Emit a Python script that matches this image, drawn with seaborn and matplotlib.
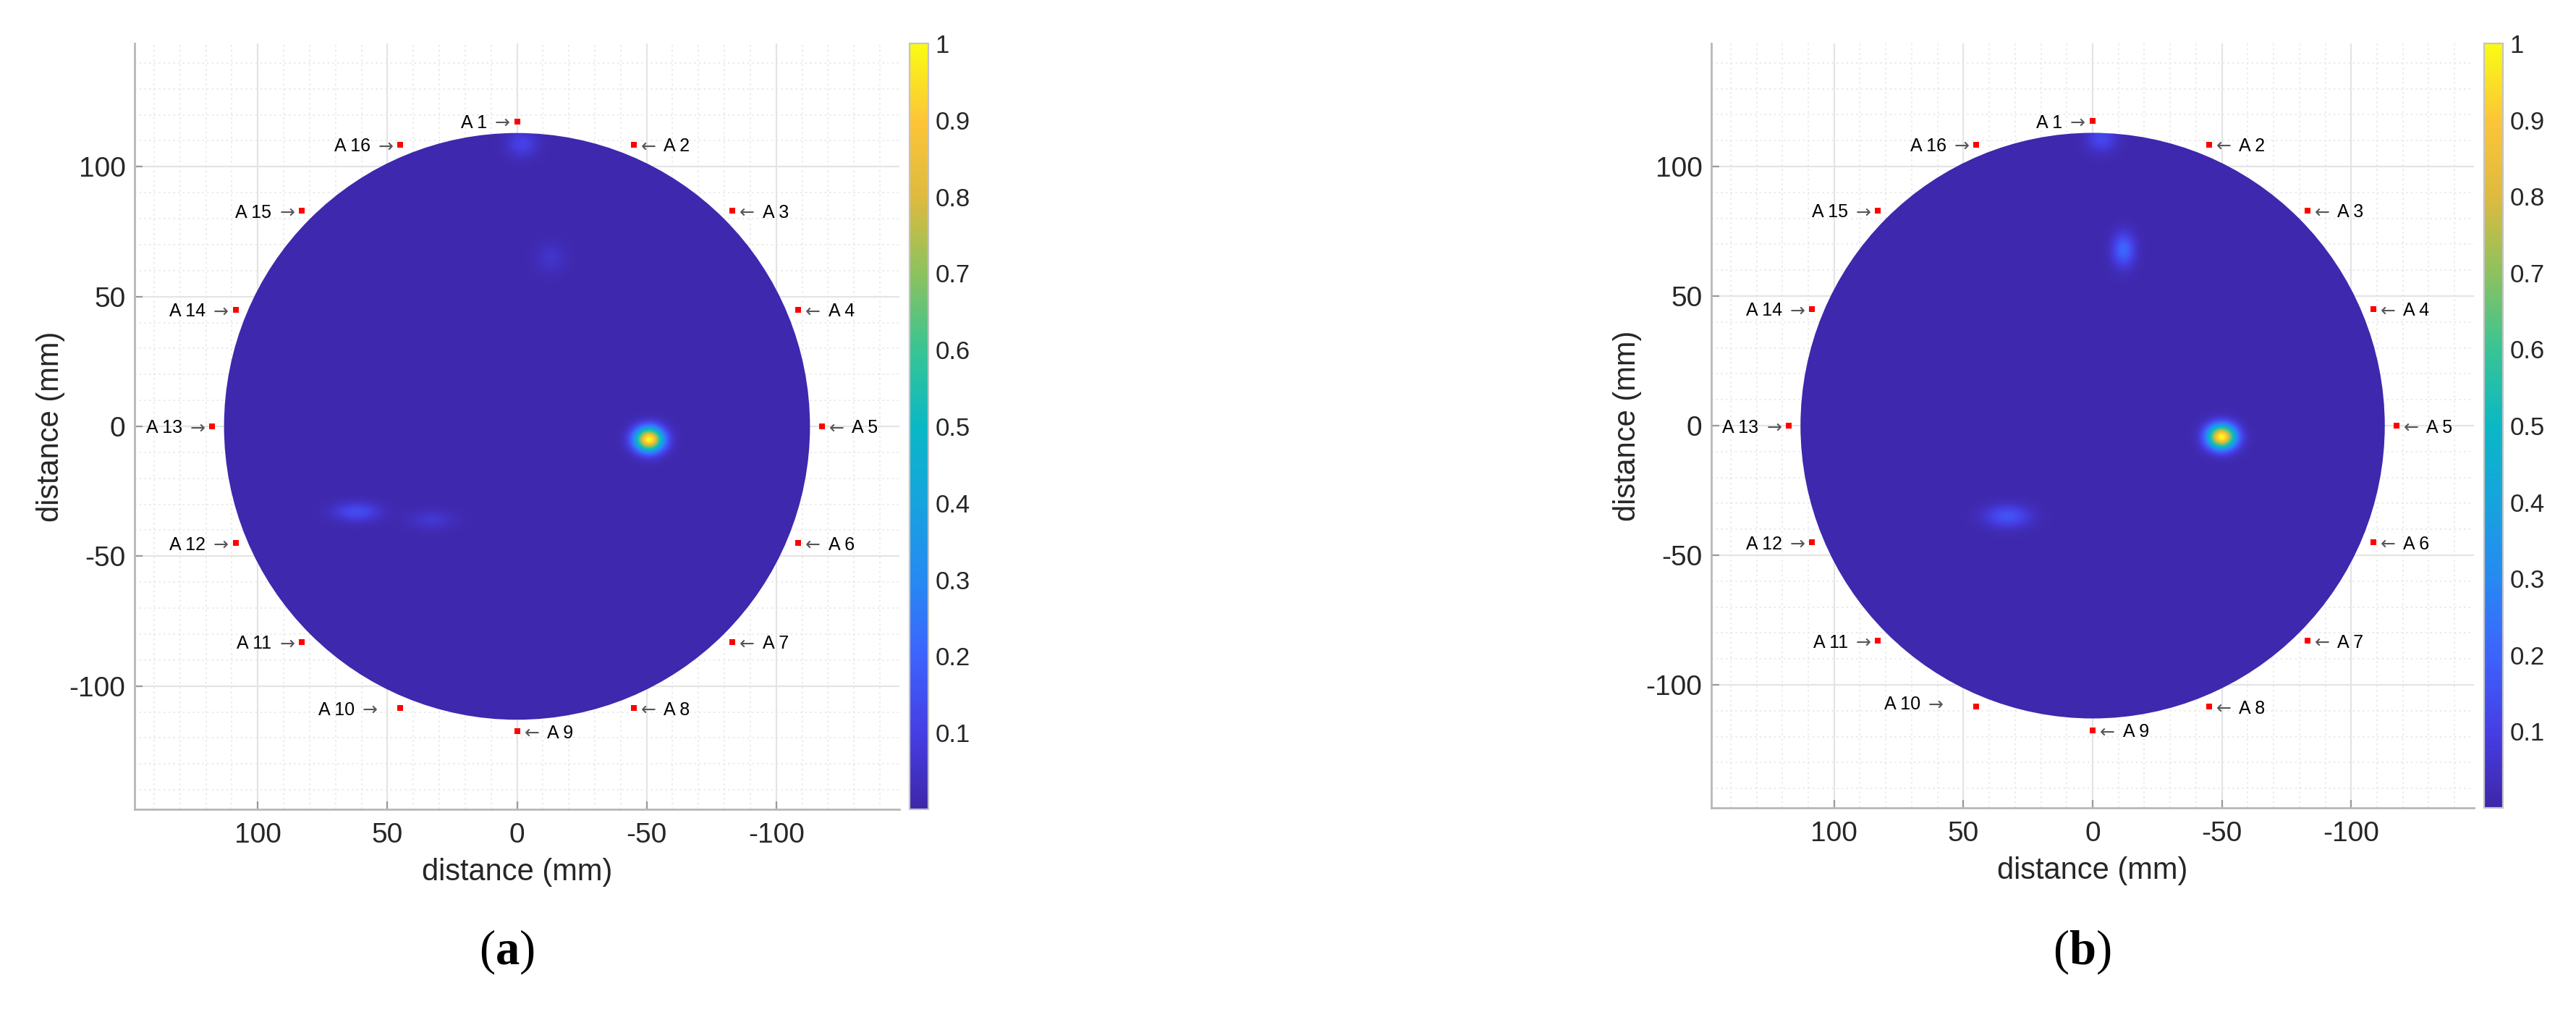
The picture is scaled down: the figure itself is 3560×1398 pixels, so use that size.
import numpy as np
import matplotlib
matplotlib.use("Agg")
import matplotlib.pyplot as plt
import seaborn as sns
from matplotlib.colors import LinearSegmentedColormap, Normalize
from matplotlib.patches import Circle
from matplotlib.ticker import MultipleLocator

# ------------------------------------------------------------------ data
sensor_labels = ["A 1", "A 2", "A 3", "A 4", "A 5", "A 6", "A 7", "A 8",
                 "A 9", "A 10", "A 11", "A 12", "A 13", "A 14", "A 15", "A 16"]
sensor_x = [0, -45, -83, -108.5, -117.5, -108.5, -83, -45,
            0, 45, 83, 108.5, 117.5, 108.5, 83, 45]
sensor_y = [117.5, 108.5, 83, 45, 0, -45, -83, -108.5,
            -117.5, -108.5, -83, -45, 0, 45, 83, 108.5]
plate_radius = 113.0
background_level = 0.01

# panel (a) damage-index hotspots: centre (mm), peak value, spread (mm)
a_spot_x = [-51.0, -2.0, -13.0, 62.0, 33.0]
a_spot_y = [-5.0, 109.0, 65.0, -33.0, -36.0]
a_spot_amp = [1.0, 0.10, 0.05, 0.13, 0.06]
a_spot_sx = [3.8, 4.0, 4.0, 6.0, 6.0]
a_spot_sy = [3.2, 3.5, 4.0, 2.5, 2.5]

# panel (b)
b_spot_x = [-50.0, -12.0, -3.5, 33.0]
b_spot_y = [-4.3, 68.0, 111.0, -35.0]
b_spot_amp = [1.0, 0.20, 0.12, 0.15]
b_spot_sx = [3.8, 3.0, 4.0, 6.0]
b_spot_sy = [3.2, 4.5, 3.5, 3.0]

axis_ticks = [-100, -50, 0, 50, 100]
cbar_ticks = [0.1, 0.2, 0.3, 0.4, 0.5, 0.6, 0.7, 0.8, 0.9, 1.0]
cbar_ticklabels = ["0.1", "0.2", "0.3", "0.4", "0.5", "0.6", "0.7", "0.8", "0.9", "1"]
panel_tags = ["a", "b"]

# ------------------------------------------------------------------ style
sns.set_theme(style="white")
plt.rcParams["font.family"] = ["Liberation Sans", "DejaVu Sans"]
plt.rcParams["axes.unicode_minus"] = False
plt.rcParams["mathtext.fontset"] = "custom"
plt.rcParams["mathtext.bf"] = "Liberation Serif:bold"
plt.rcParams["mathtext.rm"] = "Liberation Serif"

parula = LinearSegmentedColormap.from_list("parula_like", [
    (0.00, (0.2422, 0.1504, 0.6603)),
    (0.10, (0.2750, 0.2450, 0.9000)),
    (0.20, (0.2400, 0.3900, 0.9900)),
    (0.30, (0.1500, 0.5400, 0.9500)),
    (0.40, (0.0900, 0.6400, 0.8700)),
    (0.50, (0.0400, 0.7200, 0.7700)),
    (0.60, (0.2200, 0.7700, 0.5800)),
    (0.70, (0.5500, 0.7600, 0.3700)),
    (0.80, (0.8700, 0.7300, 0.2500)),
    (0.90, (0.9900, 0.7700, 0.2200)),
    (1.00, (0.9769, 0.9839, 0.0805)),
], N=256)

LIM = 147.5
W, H, DPI = 3560, 1398, 200
fig = plt.figure(figsize=(W / DPI, H / DPI), dpi=DPI)

def px_rect(l, t, r, b):
    return [l / W, 1 - b / H, (r - l) / W, (b - t) / H]

layouts = [
    dict(ax=px_rect(186, 60, 1243, 1118), cax=px_rect(1257, 60, 1283, 1118), tag_x=700),
    dict(ax=px_rect(2365, 60, 3419, 1116), cax=px_rect(3433, 60, 3459, 1116), tag_x=2877),
]
spots = [
    (a_spot_x, a_spot_y, a_spot_amp, a_spot_sx, a_spot_sy),
    (b_spot_x, b_spot_y, b_spot_amp, b_spot_sx, b_spot_sy),
]
# extra leftward shift (points) of the "A 10 ->" annotation in each panel
a10_shift = [(-7.8, 0), (-12.9, 2)]
ARROW_OFF = 3.6    # pt from marker centre to arrow
LABEL_OFF = 15.0   # pt from marker centre to label

grid = np.linspace(-LIM, LIM, 700)
GX, GY = np.meshgrid(grid, grid)
norm = Normalize(0, 1)
spine_col = "#b8b8b8"
text_col = "#262626"

for i, (lay, sp) in enumerate(zip(layouts, spots)):
    ax = fig.add_axes(lay["ax"])
    cax = fig.add_axes(lay["cax"])

    xs, ys, amps, sxs, sys_ = sp
    Z = np.full_like(GX, background_level)
    for x0, y0, a, sx, sy in zip(xs, ys, amps, sxs, sys_):
        Z += a * np.exp(-((GX - x0) ** 2 / (2 * sx ** 2) + (GY - y0) ** 2 / (2 * sy ** 2)))
    Z = np.clip(Z, 0, 1)

    im = ax.imshow(Z, extent=(-LIM, LIM, -LIM, LIM), origin="lower", cmap=parula,
                   norm=norm, interpolation="bilinear", zorder=1)
    im.set_clip_path(Circle((0, 0), plate_radius, transform=ax.transData))

    sns.scatterplot(x=sensor_x, y=sensor_y, marker="s", s=9, color="#ff0000",
                    linewidth=0, ax=ax, zorder=4, legend=False)

    for k, (lab, x, y) in enumerate(zip(sensor_labels, sensor_x, sensor_y)):
        left = (k == 0) or (k >= 9)
        sx_, sy_ = a10_shift[i] if k == 9 else (0, 0)
        if left:
            ax.annotate("\u2192", (x, y), xytext=(-ARROW_OFF + sx_, sy_), textcoords="offset points",
                        ha="right", va="center_baseline", fontsize=9, color="#555555",
                        family="DejaVu Sans", zorder=5)
            ax.annotate(lab, (x, y), xytext=(-LABEL_OFF + sx_, sy_), textcoords="offset points",
                        ha="right", va="center_baseline", fontsize=9, color="black", zorder=5)
        else:
            ax.annotate("\u2190", (x, y), xytext=(ARROW_OFF, 0), textcoords="offset points",
                        ha="left", va="center_baseline", fontsize=9, color="#555555",
                        family="DejaVu Sans", zorder=5)
            ax.annotate(lab, (x, y), xytext=(LABEL_OFF, 0), textcoords="offset points",
                        ha="left", va="center_baseline", fontsize=9, color="black", zorder=5)

    ax.set_xlim(LIM, -LIM)
    ax.set_ylim(-LIM, LIM)
    ax.set_aspect("auto")
    ax.set_xticks(axis_ticks)
    ax.set_yticks(axis_ticks)
    ax.set_xticklabels([str(t) for t in axis_ticks])
    ax.set_yticklabels([str(t) for t in axis_ticks])
    ax.xaxis.set_minor_locator(MultipleLocator(10))
    ax.yaxis.set_minor_locator(MultipleLocator(10))
    ax.set_axisbelow(True)
    ax.grid(which="major", color="#e4e4e4", linewidth=0.8, linestyle="-")
    ax.grid(which="minor", color="#e8e8e8", linewidth=0.6, linestyle=(0, (1.5, 2.5)))
    for s in ["top", "right"]:
        ax.spines[s].set_visible(False)
    for s in ["left", "bottom"]:
        ax.spines[s].set_color(spine_col)
        ax.spines[s].set_linewidth(1.0)
    ax.tick_params(which="major", direction="in", length=4, width=0.8, color="#9a9a9a",
                   labelsize=14, labelcolor=text_col, left=True, bottom=True)
    ax.tick_params(axis="x", pad=6.5)
    ax.tick_params(axis="y", pad=4.5)
    ax.tick_params(which="minor", length=0)
    ax.set_xlabel("distance (mm)", fontsize=15, color=text_col)
    ax.set_ylabel("distance (mm)", fontsize=15, color=text_col)
    ax.xaxis.set_label_coords(0.5, -0.063)
    ax.yaxis.set_label_coords(-0.091, 0.5)

    cb = fig.colorbar(im, cax=cax)
    cb.set_ticks(cbar_ticks)
    cb.set_ticklabels(cbar_ticklabels)
    cb.outline.set_edgecolor("#c4c4c4")
    cb.outline.set_linewidth(0.8)
    cax.tick_params(direction="in", length=3.5, width=0.7, color="#7a6a3a",
                    labelsize=12.5, labelcolor=text_col, pad=3.5)

    fig.text(lay["tag_x"] / W, 1 - 1315 / H, "(" + r"$\mathbf{" + panel_tags[i] + "}$" + ")",
             ha="center", va="center", fontsize=24, family="Liberation Serif", color="black")

fig.savefig("out.png", dpi=DPI, facecolor="white")
